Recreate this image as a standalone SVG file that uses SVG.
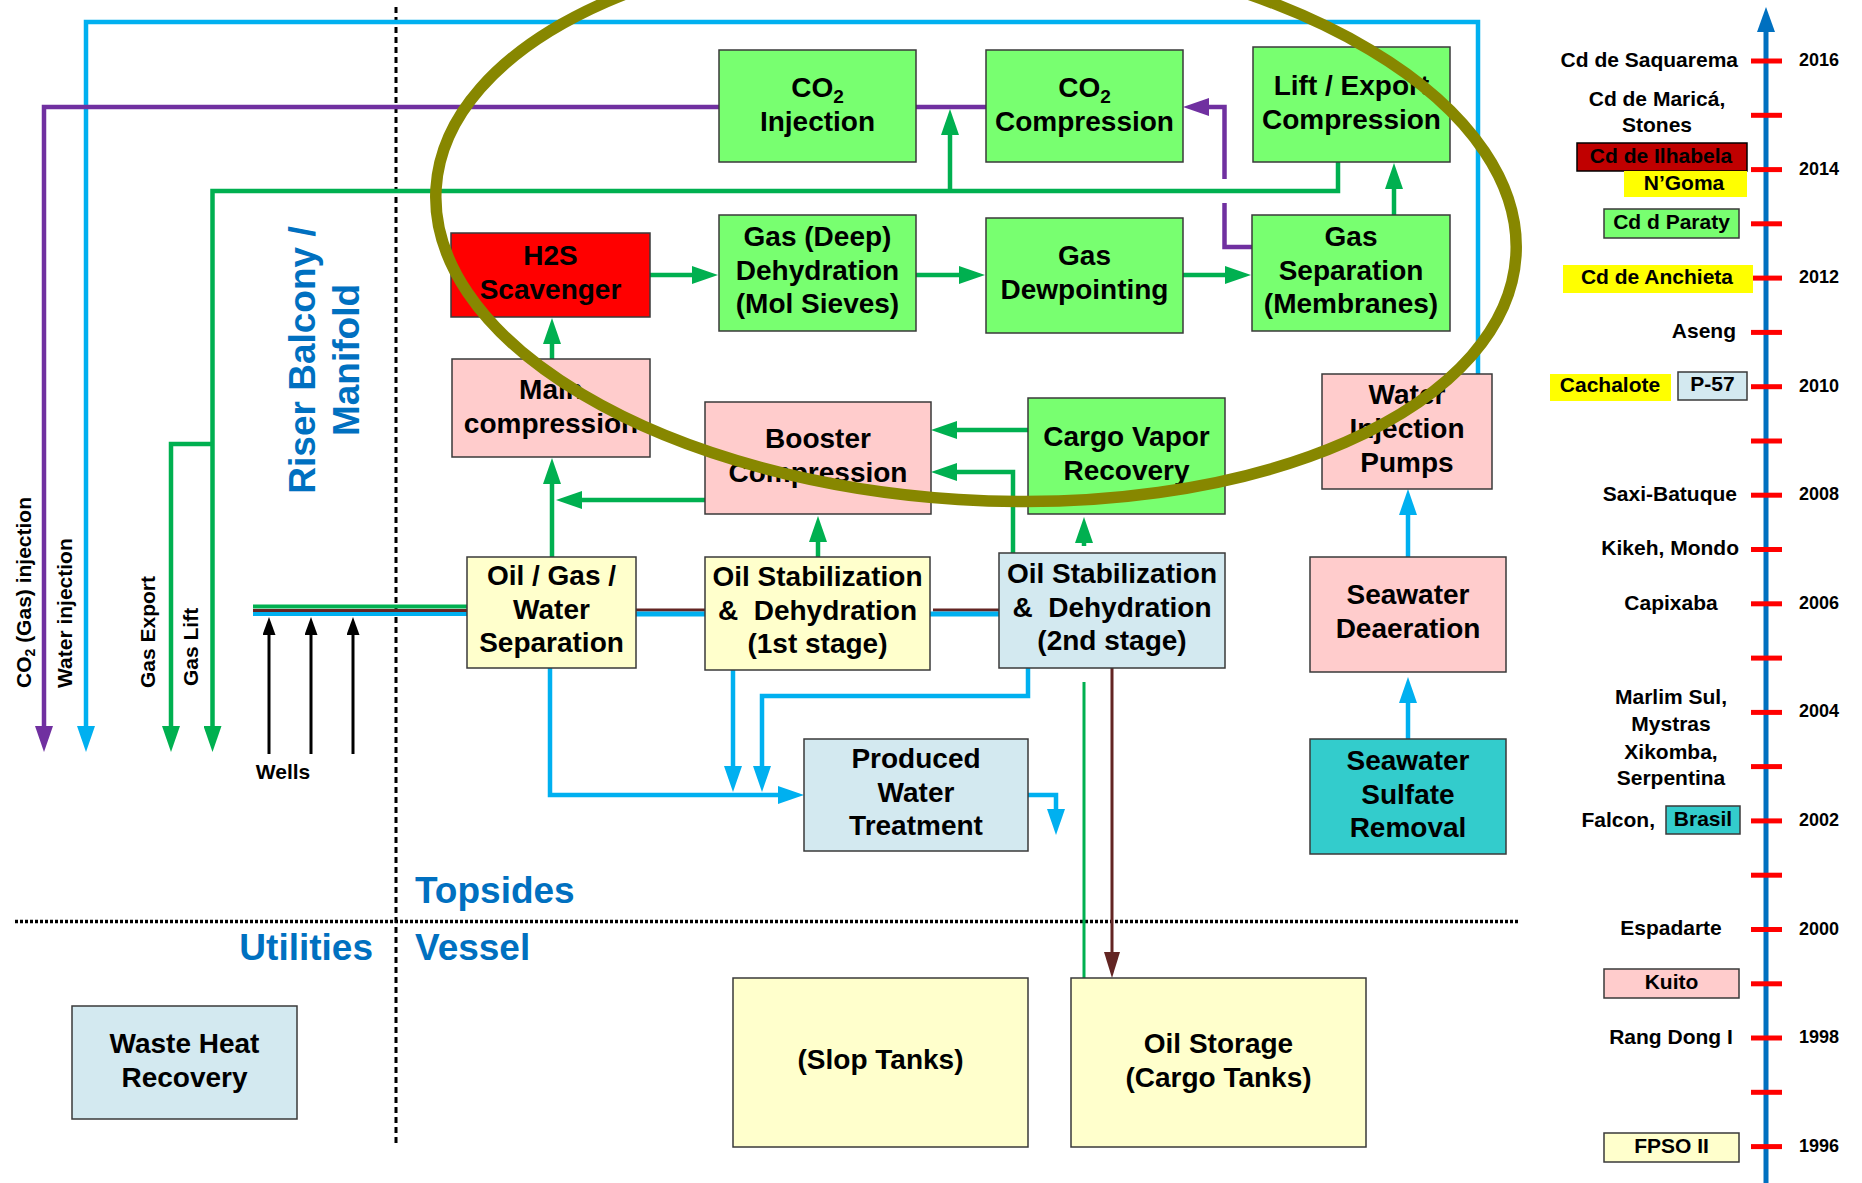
<svg xmlns="http://www.w3.org/2000/svg" width="1862" height="1183" viewBox="0 0 1862 1183">
<style>
text{font-family:'Liberation Sans',Arial,sans-serif;font-weight:bold;fill:#000}
.bt{font-size:28px;text-anchor:middle;transform:translate(0px,-2px)}
.tl{font-size:21px}
.yr{font-size:18px;text-anchor:middle}
.blue{font-size:37px;fill:#0070C0}
.box{stroke:#3a3a3a;stroke-width:1.5}
.g{fill:#78FF70}.r{fill:#FF0000}.p{fill:#FFCCCC}.y{fill:#FFFFCC}.lb{fill:#D3E9F0}.t{fill:#33CCCC}
.cg{fill:none;stroke:#00B050;stroke-width:4.5}
.cc{fill:none;stroke:#00B0F0;stroke-width:4.5}
.cp{fill:none;stroke:#7030A0;stroke-width:4.5}
.cb{fill:none;stroke:#632523;stroke-width:3}
.ck{fill:none;stroke:#000;stroke-width:3}
.tick{stroke:#FF0000;stroke-width:5}
</style>
<defs>
<marker id="ag" markerUnits="userSpaceOnUse" markerWidth="26" markerHeight="18" refX="16" refY="9" orient="auto"><path d="M0,0 L26,9 L0,18 z" fill="#00B050"/></marker>
<marker id="ac" markerUnits="userSpaceOnUse" markerWidth="26" markerHeight="18" refX="16" refY="9" orient="auto"><path d="M0,0 L26,9 L0,18 z" fill="#00B0F0"/></marker>
<marker id="ap" markerUnits="userSpaceOnUse" markerWidth="26" markerHeight="18" refX="16" refY="9" orient="auto"><path d="M0,0 L26,9 L0,18 z" fill="#7030A0"/></marker>
<marker id="ab" markerUnits="userSpaceOnUse" markerWidth="26" markerHeight="16" refX="16" refY="8" orient="auto"><path d="M0,0 L26,8 L0,16 z" fill="#632523"/></marker>
<marker id="ak" markerUnits="userSpaceOnUse" markerWidth="18" markerHeight="13" refX="10" refY="6.5" orient="auto"><path d="M0,0 L18,6.5 L0,13 z" fill="#000"/></marker>
</defs>
<rect width="1862" height="1183" fill="#fff"/>

<g id="dividers">
<line x1="396" y1="7" x2="396" y2="1146" stroke="#000" stroke-width="3" stroke-dasharray="6 4"/>
<line x1="15" y1="921.5" x2="1518" y2="921.5" stroke="#000" stroke-width="3.5" stroke-dasharray="3 2"/>
</g>

<g id="connectors">
<path class="cb" d="M253,610.5 H468"/>
<path class="cb" d="M636,610 H705"/>
<path class="cb" d="M933,610 H999"/>
<path class="cg" d="M253,606.5 H468" style="stroke-width:4"/>
<path class="cc" d="M253,614 H468" style="stroke-width:4"/>
<path class="cc" d="M636,614 H705" style="stroke-width:5"/>
<path class="cc" d="M930,614 H999" style="stroke-width:5"/>

<path class="cc" d="M1478,374 V22 H86 V742" marker-end="url(#ac)"/>
<path class="cc" d="M733,670 V782" marker-end="url(#ac)"/>
<path class="cc" d="M1028,668 V696 H762 V782" marker-end="url(#ac)"/>
<path class="cc" d="M550,668 V795 H794" marker-end="url(#ac)"/>
<path class="cc" d="M1028,795 H1056 V825" marker-end="url(#ac)"/>
<path class="cc" d="M1408,557 V499" marker-end="url(#ac)"/>
<path class="cc" d="M1408,739 V687" marker-end="url(#ac)"/>

<path class="cp" d="M719,107 H44 V742" marker-end="url(#ap)"/>
<path class="cp" d="M916,107 H986"/>
<path class="cp" d="M1252,247 H1224.5 V203 M1224.5,179 V107 H1193" marker-end="url(#ap)"/>

<path class="cg" d="M1338,162 V191 H212.5 V742" marker-end="url(#ag)"/>
<path class="cg" d="M212.5,444 H171 V742" marker-end="url(#ag)"/>
<path class="cg" d="M950,191 V119" marker-end="url(#ag)"/>
<path class="cg" d="M1394,215 V173" marker-end="url(#ag)"/>
<path class="cg" d="M650,275 H708" marker-end="url(#ag)"/>
<path class="cg" d="M916,275 H975" marker-end="url(#ag)"/>
<path class="cg" d="M1183,275 H1241" marker-end="url(#ag)"/>
<path class="cg" d="M552,359 V328" marker-end="url(#ag)"/>
<path class="cg" d="M552,557 V468" marker-end="url(#ag)"/>
<path class="cg" d="M705,500 H566" marker-end="url(#ag)"/>
<path class="cg" d="M818,557 V526" marker-end="url(#ag)"/>
<path class="cg" d="M1028,430 H941" marker-end="url(#ag)"/>
<path class="cg" d="M1013,553 V472 H941" marker-end="url(#ag)"/>
<path class="cg" d="M1084,546 V527" marker-end="url(#ag)"/>
<path class="cg" d="M1084,682 V978" style="stroke-width:3"/>

<path class="cb" d="M1112,668 V968" marker-end="url(#ab)"/>

<path class="ck" d="M269,754 V625" marker-end="url(#ak)"/>
<path class="ck" d="M311,754 V625" marker-end="url(#ak)"/>
<path class="ck" d="M353,754 V625" marker-end="url(#ak)"/>
</g>

<g id="flow-labels">
<text class="tl" transform="translate(31,688) rotate(-90)">CO<tspan font-size="14" dy="4">2</tspan><tspan dy="-4"> (Gas) injection</tspan></text>
<text class="tl" transform="translate(72,688) rotate(-90)">Water injection</text>
<text class="tl" transform="translate(155,688) rotate(-90)">Gas Export</text>
<text class="tl" transform="translate(198,686) rotate(-90)">Gas Lift</text>
<text class="tl" x="283" y="779" text-anchor="middle">Wells</text>
<text class="blue" transform="translate(315,360) rotate(-90)" text-anchor="middle">Riser Balcony /</text>
<text class="blue" transform="translate(359,360) rotate(-90)" text-anchor="middle">Manifold</text>
<text class="blue" x="415" y="903">Topsides</text>
<text class="blue" x="373" y="960" text-anchor="end">Utilities</text>
<text class="blue" x="415" y="960">Vessel</text>
</g>

<g id="co2-injection"><rect class="box g" x="719" y="50" width="197" height="112"/>
<text class="bt" x="817.5" y="99">CO<tspan font-size="19" dy="6">2</tspan></text><text class="bt" x="817.5" y="133">Injection</text></g>
<g id="co2-compression"><rect class="box g" x="986" y="50" width="197" height="112"/>
<text class="bt" x="1084.5" y="99">CO<tspan font-size="19" dy="6">2</tspan></text><text class="bt" x="1084.5" y="133">Compression</text></g>
<g id="lift-export"><rect class="box g" x="1253" y="47" width="197" height="115"/>
<text class="bt" x="1351.5" y="97">Lift / Export</text><text class="bt" x="1351.5" y="131">Compression</text></g>
<g id="h2s"><rect class="box r" x="451" y="233" width="199" height="84"/>
<text class="bt" x="550.5" y="267">H2S</text><text class="bt" x="550.5" y="301">Scavenger</text></g>
<g id="gas-dehydration"><rect class="box g" x="719" y="215" width="197" height="116"/>
<text class="bt" x="817.5" y="248">Gas (Deep)</text><text class="bt" x="817.5" y="282">Dehydration</text><text class="bt" x="817.5" y="315">(Mol Sieves)</text></g>
<g id="gas-dewpointing"><rect class="box g" x="986" y="218" width="197" height="115"/>
<text class="bt" x="1084.5" y="267">Gas</text><text class="bt" x="1084.5" y="301">Dewpointing</text></g>
<g id="gas-separation"><rect class="box g" x="1252" y="215" width="198" height="116"/>
<text class="bt" x="1351" y="248">Gas</text><text class="bt" x="1351" y="282">Separation</text><text class="bt" x="1351" y="315">(Membranes)</text></g>
<g id="main-compression"><rect class="box p" x="452" y="359" width="198" height="98"/>
<text class="bt" x="551" y="401">Main</text><text class="bt" x="551" y="435">compression</text></g>
<g id="booster"><rect class="box p" x="705" y="402" width="226" height="112"/>
<text class="bt" x="818" y="450">Booster</text><text class="bt" x="818" y="484">Compression</text></g>
<g id="cargo-vapor"><rect class="box g" x="1028" y="398" width="197" height="116"/>
<text class="bt" x="1126.5" y="448">Cargo Vapor</text><text class="bt" x="1126.5" y="482">Recovery</text></g>
<g id="water-injection-pumps"><rect class="box p" x="1322" y="374" width="170" height="115"/>
<text class="bt" x="1407" y="406">Water</text><text class="bt" x="1407" y="440">Injection</text><text class="bt" x="1407" y="474">Pumps</text></g>
<g id="ogw-separation"><rect class="box y" x="467" y="557" width="169" height="111"/>
<text class="bt" x="551.5" y="587">Oil / Gas /</text><text class="bt" x="551.5" y="621">Water</text><text class="bt" x="551.5" y="654">Separation</text></g>
<g id="oil-stab-1"><rect class="box y" x="705" y="557" width="225" height="113"/>
<text class="bt" x="817.5" y="588">Oil Stabilization</text><text class="bt" x="817.5" y="622">&amp;&#160; Dehydration</text><text class="bt" x="817.5" y="655">(1st stage)</text></g>
<g id="oil-stab-2"><rect class="box lb" x="999" y="553" width="226" height="115"/>
<text class="bt" x="1112" y="585">Oil Stabilization</text><text class="bt" x="1112" y="619">&amp;&#160; Dehydration</text><text class="bt" x="1112" y="652">(2nd stage)</text></g>
<g id="seawater-deaeration"><rect class="box p" x="1310" y="557" width="196" height="115"/>
<text class="bt" x="1408" y="606">Seawater</text><text class="bt" x="1408" y="640">Deaeration</text></g>
<g id="produced-water"><rect class="box lb" x="804" y="739" width="224" height="112"/>
<text class="bt" x="916" y="770">Produced</text><text class="bt" x="916" y="804">Water</text><text class="bt" x="916" y="837">Treatment</text></g>
<g id="sulfate-removal"><rect class="box t" x="1310" y="739" width="196" height="115"/>
<text class="bt" x="1408" y="772">Seawater</text><text class="bt" x="1408" y="806">Sulfate</text><text class="bt" x="1408" y="839">Removal</text></g>
<g id="waste-heat"><rect class="box lb" x="72" y="1006" width="225" height="113"/>
<text class="bt" x="184.5" y="1055">Waste Heat</text><text class="bt" x="184.5" y="1089">Recovery</text></g>
<g id="slop-tanks"><rect class="box y" x="733" y="978" width="295" height="169"/>
<text class="bt" x="880.5" y="1071">(Slop Tanks)</text></g>
<g id="oil-storage"><rect class="box y" x="1071" y="978" width="295" height="169"/>
<text class="bt" x="1218.5" y="1055">Oil Storage</text><text class="bt" x="1218.5" y="1089">(Cargo Tanks)</text></g>

<g id="highlight">
<ellipse cx="976" cy="222" rx="541" ry="278" transform="rotate(3.6 976 222)" fill="none" stroke="#878700" stroke-width="11.5"/>
</g>

<g id="timeline">
<line x1="1766" y1="1183" x2="1766" y2="28" stroke="#0070C0" stroke-width="5"/>
<path d="M1766,7 L1757,32 L1775,32 z" fill="#0070C0"/>
<g class="tick">
<line x1="1751" y1="61" x2="1782" y2="61"/><line x1="1751" y1="115.3" x2="1782" y2="115.3"/>
<line x1="1751" y1="169.6" x2="1782" y2="169.6"/><line x1="1751" y1="223.8" x2="1782" y2="223.8"/>
<line x1="1751" y1="278.1" x2="1782" y2="278.1"/><line x1="1751" y1="332.4" x2="1782" y2="332.4"/>
<line x1="1751" y1="386.7" x2="1782" y2="386.7"/><line x1="1751" y1="441" x2="1782" y2="441"/>
<line x1="1751" y1="495.2" x2="1782" y2="495.2"/><line x1="1751" y1="549.5" x2="1782" y2="549.5"/>
<line x1="1751" y1="603.8" x2="1782" y2="603.8"/><line x1="1751" y1="658.1" x2="1782" y2="658.1"/>
<line x1="1751" y1="712.4" x2="1782" y2="712.4"/><line x1="1751" y1="766.6" x2="1782" y2="766.6"/>
<line x1="1751" y1="820.9" x2="1782" y2="820.9"/><line x1="1751" y1="875.2" x2="1782" y2="875.2"/>
<line x1="1751" y1="929.5" x2="1782" y2="929.5"/><line x1="1751" y1="983.8" x2="1782" y2="983.8"/>
<line x1="1751" y1="1038" x2="1782" y2="1038"/><line x1="1751" y1="1092.3" x2="1782" y2="1092.3"/>
<line x1="1751" y1="1146.6" x2="1782" y2="1146.6"/>
</g>
<rect x="1577" y="143" width="170" height="28" fill="#C00000" stroke="#000" stroke-width="1.5"/>
<rect x="1624" y="171" width="123" height="26" fill="#FFFF00"/>
<rect class="box g" x="1604" y="209" width="135" height="29"/>
<rect x="1563" y="265" width="190" height="28" fill="#FFFF00"/>
<rect x="1550" y="374" width="121" height="27" fill="#FFFF00"/>
<rect class="box lb" x="1678" y="372" width="69" height="28"/>
<rect class="box t" x="1666" y="806" width="74" height="28"/>
<rect class="box p" x="1604" y="969" width="135" height="29"/>
<rect class="box y" x="1604" y="1133" width="135" height="29"/>
<g transform="translate(0,-1.5)">
<text class="yr" x="1819" y="67.5">2016</text>
<text class="yr" x="1819" y="176">2014</text>
<text class="yr" x="1819" y="284.5">2012</text>
<text class="yr" x="1819" y="393">2010</text>
<text class="yr" x="1819" y="501.5">2008</text>
<text class="yr" x="1819" y="610">2006</text>
<text class="yr" x="1819" y="718.5">2004</text>
<text class="yr" x="1819" y="827">2002</text>
<text class="yr" x="1819" y="936">2000</text>
<text class="yr" x="1819" y="1044.5">1998</text>
<text class="yr" x="1819" y="1153">1996</text>
</g>
<g transform="translate(0,-1.5)">
<text class="tl" x="1738" y="68" text-anchor="end">Cd de Saquarema</text>
<text class="tl" x="1657" y="107" text-anchor="middle">Cd de Maricá,</text>
<text class="tl" x="1657" y="133" text-anchor="middle">Stones</text>
<text class="tl" x="1661" y="164" text-anchor="middle">Cd de Ilhabela</text>
<text class="tl" x="1684" y="191" text-anchor="middle">N’Goma</text>
<text class="tl" x="1671.5" y="230" text-anchor="middle">Cd d Paraty</text>
<text class="tl" x="1657" y="285" text-anchor="middle">Cd de Anchieta</text>
<text class="tl" x="1736" y="339" text-anchor="end">Aseng</text>
<text class="tl" x="1610" y="393" text-anchor="middle">Cachalote</text>
<text class="tl" x="1712.5" y="392" text-anchor="middle">P-57</text>
<text class="tl" x="1737" y="502.5" text-anchor="end">Saxi-Batuque</text>
<text class="tl" x="1739" y="556.5" text-anchor="end">Kikeh, Mondo</text>
<text class="tl" x="1671" y="611" text-anchor="middle">Capixaba</text>
<text class="tl" x="1671" y="705" text-anchor="middle">Marlim Sul,</text>
<text class="tl" x="1671" y="732" text-anchor="middle">Mystras</text>
<text class="tl" x="1671" y="760" text-anchor="middle">Xikomba,</text>
<text class="tl" x="1671" y="786" text-anchor="middle">Serpentina</text>
<text class="tl" x="1655" y="828" text-anchor="end">Falcon,</text>
<text class="tl" x="1703" y="827" text-anchor="middle">Brasil</text>
<text class="tl" x="1671" y="936" text-anchor="middle">Espadarte</text>
<text class="tl" x="1671.5" y="990.5" text-anchor="middle">Kuito</text>
<text class="tl" x="1671" y="1045" text-anchor="middle">Rang Dong I</text>
<text class="tl" x="1671.5" y="1154.5" text-anchor="middle">FPSO II</text>
</g>
</g>
</svg>
